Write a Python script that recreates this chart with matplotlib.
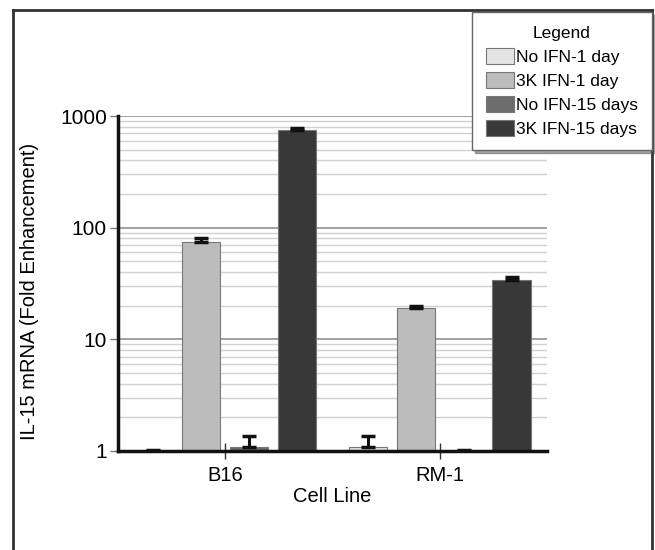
import matplotlib.pyplot as plt
import numpy as np
from matplotlib.lines import Line2D
from matplotlib.ticker import FixedLocator, NullFormatter

plt.rcParams['font.family'] = ['Liberation Sans', 'DejaVu Sans']

cell_lines = ['B16', 'RM-1']
series = ['No IFN-1 day', '3K IFN-1 day', 'No IFN-15 days', '3K IFN-15 days']
values = [
    [1.01, 1.08],   # No IFN-1 day
    [75, 19],       # 3K IFN-1 day
    [1.08, 1.01],   # No IFN-15 days
    [750, 34],      # 3K IFN-15 days
]
errors = [
    [0.02, 0.28],
    [6, 0.8],
    [0.28, 0.02],
    [32, 2.5],
]
colors = ['#e4e4e4', '#bcbcbc', '#6c6c6c', '#383838']

fig = plt.figure(figsize=(6.55, 5.5), dpi=100)
ax = fig.add_axes([118 / 655, 1 - 451 / 550, (547 - 118) / 655, (451 - 116) / 550])

x = np.arange(len(cell_lines))
step = 0.223
width = 0.178
for i, (name, vals, errs, col) in enumerate(zip(series, values, errors, colors)):
    pos = x + (i - 1.5) * step
    ax.bar(pos, np.array(vals) - 1, width, bottom=1, color=col, edgecolor='#777777',
           linewidth=0.8, label=name, zorder=3)
    ax.errorbar(pos, vals, yerr=[np.zeros(len(errs)), errs], fmt='none', ecolor='#111111',
                elinewidth=2.2, capsize=5, capthick=2.5, zorder=4)

ax.set_yscale('log')
ax.set_ylim(1, 1000)
ax.set_xlim(-0.5, 1.5)

minor = [m * 10 ** d for d in range(3) for m in range(2, 10)]
ax.yaxis.set_minor_locator(FixedLocator(minor))
ax.yaxis.set_minor_formatter(NullFormatter())
ax.set_yticks([1, 10, 100, 1000])
ax.set_yticklabels(['1', '10', '100', '1000'])
ax.grid(True, which='minor', axis='y', color='#d0d0d0', linewidth=1, zorder=0)
ax.grid(True, which='major', axis='y', color='#9a9a9a', linewidth=1.3, zorder=0)

ax.set_xticks(x)
ax.set_xticklabels(cell_lines)
ax.tick_params(axis='x', direction='inout', length=12, width=1, color='#333333',
               labelsize=14.5, pad=5)
ax.tick_params(axis='y', which='major', direction='out', length=6, width=1,
               color='#777777', labelsize=15, pad=2)
ax.tick_params(axis='y', which='minor', length=0)

for s in ['top', 'right']:
    ax.spines[s].set_visible(False)
for s in ['left', 'bottom']:
    ax.spines[s].set_linewidth(2.5)
    ax.spines[s].set_color('#111111')
    ax.spines[s].set_zorder(5)

ax.set_xlabel('Cell Line', fontsize=14.5, labelpad=1)
ax.set_ylabel('IL-15 mRNA (Fold Enhancement)', fontsize=14.5)
ax.yaxis.set_label_coords(-0.183, 0.475)

leg = fig.legend(loc='upper right', bbox_to_anchor=(652 / 655, 1 - 12 / 550),
                 title='Legend', fontsize=12.5, title_fontsize=12.5, frameon=True,
                 fancybox=False, shadow=True, edgecolor='#666666',
                 handlelength=1.6, handleheight=1.05, handletextpad=0.15,
                 labelspacing=0.4, borderpad=0.8, borderaxespad=0)
leg.get_frame().set_linewidth(1)

# figure frame (left, top, right)
W, H = 655, 550
frame = [((13, 13), (0, 540)), ((13, 652), (540, 540)), ((652, 652), (540, 0))]
for xs, ys in frame:
    fig.add_artist(Line2D([xs[0] / W, xs[1] / W], [ys[0] / H, ys[1] / H],
                          color='#333333', linewidth=2, transform=fig.transFigure, zorder=0))

fig.savefig('out.png', dpi=100)
